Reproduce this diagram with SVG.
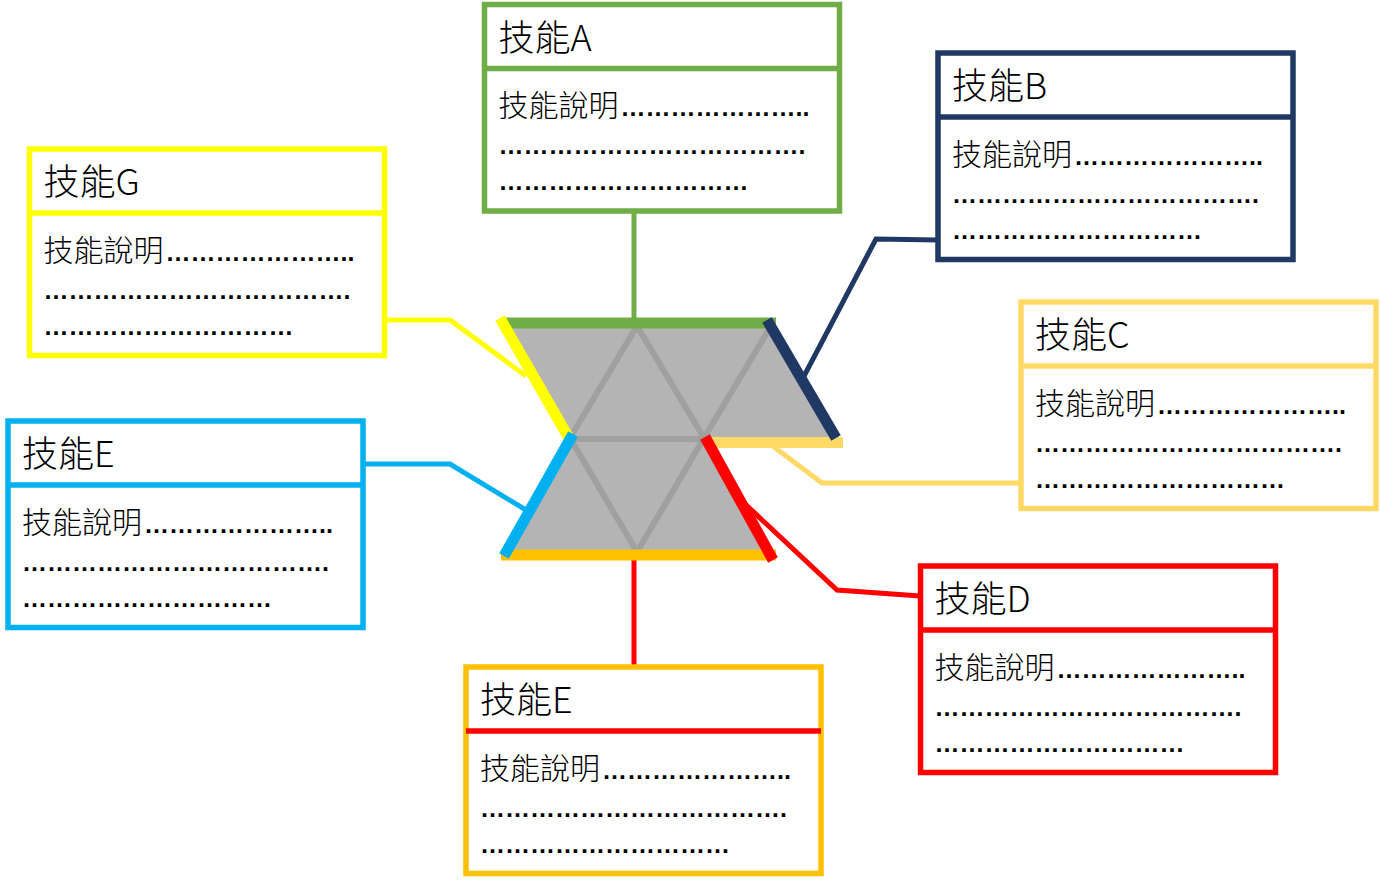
<svg xmlns="http://www.w3.org/2000/svg" width="1380" height="881" viewBox="0 0 1380 881">
<style>
.box{fill:#FFFFFF;stroke-width:5.5}
.div{stroke-width:5.5}
.t{font-family:"Noto Sans CJK TC","Noto Sans CJK SC",sans-serif;font-size:36px;font-weight:300;fill:#000}
.b{font-family:"Noto Sans CJK TC","Noto Sans CJK SC",sans-serif;font-size:30px;font-weight:300;fill:#000}
.d{font-family:"Liberation Sans",Arial,sans-serif;font-size:25px;font-weight:700;fill:#000}
.conn{fill:none;stroke-width:5;stroke-linejoin:miter}
.edge{stroke-width:11;stroke-linecap:butt}
.inner{stroke:#A0A0A0;stroke-width:6;stroke-linecap:round}
</style>
<rect x="0" y="0" width="1380" height="881" fill="#FFFFFF"/>

<g id="connectors">
<polyline class="conn" stroke="#70AD47" points="634,213 634,322"/>
<polyline class="conn" stroke="#203864" points="938,240 876,239 803,378"/>
<polyline class="conn" stroke="#FFFF00" points="385,320 450,320 526,376"/>
<polyline class="conn" stroke="#FFD966" points="770,444 822,483 1021,483"/>
<polyline class="conn" stroke="#00B0F0" points="364,464 450,464 526,510"/>
<polyline class="conn" stroke="#FF0000" points="744,503 837,590 920,596"/>
<polyline class="conn" stroke="#FF0000" points="634,556 634,670"/>
</g>

<g id="hub">
<polygon fill="#B4B4B4" points="503,323 771,323 838,438 704,438 771,555 503,555 570,438"/>
<line class="inner" x1="570" y1="438" x2="637" y2="326"/>
<line class="inner" x1="637" y1="326" x2="704" y2="438"/>
<line class="inner" x1="704" y1="438" x2="771" y2="326"/>
<line class="inner" x1="572" y1="439" x2="708" y2="439"/>
<line class="inner" x1="570" y1="438" x2="637" y2="552"/>
<line class="inner" x1="637" y1="552" x2="704" y2="438"/>
<line class="edge" stroke="#70AD47" x1="502" y1="323" x2="776" y2="323" stroke-width="12"/>
<line class="edge" stroke="#FFC000" x1="501" y1="555" x2="776" y2="555" stroke-width="12"/>
<line class="edge" stroke="#FFD966" x1="707" y1="442.5" x2="843" y2="442.5" stroke-width="12"/>
<line class="edge" stroke="#203864" x1="767" y1="320" x2="836" y2="438"/>
<line class="edge" stroke="#FFFF00" x1="500" y1="318" x2="570" y2="440"/>
<line class="edge" stroke="#00B0F0" x1="573" y1="434" x2="504" y2="556"/>
<line class="edge" stroke="#FF0000" x1="705" y1="437" x2="773" y2="560"/>
</g>

<g id="nodeA" transform="translate(484.5,4.5)">
<rect class="box" stroke="#70AD47" x="0" y="0" width="355" height="206.5"/>
<line class="div" stroke="#70AD47" x1="0" y1="64" x2="355" y2="64"/>
<text class="t" x="14" y="46">技能A</text>
<text class="b" x="14" y="111.5">技能說明<tspan class="d" dx="2">&#8230;&#8230;&#8230;&#8230;&#8230;&#8230;&#8230;..</tspan></text>
<text class="d" x="14" y="149.5">&#8230;&#8230;&#8230;&#8230;&#8230;&#8230;&#8230;&#8230;&#8230;&#8230;&#8230;&#8230;.</text>
<text class="d" x="14" y="185.5">&#8230;&#8230;&#8230;&#8230;&#8230;&#8230;&#8230;&#8230;&#8230;&#8230;</text>
</g>

<g id="nodeB" transform="translate(938,53)">
<rect class="box" stroke="#203864" x="0" y="0" width="355" height="206.5"/>
<line class="div" stroke="#203864" x1="0" y1="64" x2="355" y2="64"/>
<text class="t" x="14" y="46">技能B</text>
<text class="b" x="14" y="111.5">技能說明<tspan class="d" dx="2">&#8230;&#8230;&#8230;&#8230;&#8230;&#8230;&#8230;..</tspan></text>
<text class="d" x="14" y="149.5">&#8230;&#8230;&#8230;&#8230;&#8230;&#8230;&#8230;&#8230;&#8230;&#8230;&#8230;&#8230;.</text>
<text class="d" x="14" y="185.5">&#8230;&#8230;&#8230;&#8230;&#8230;&#8230;&#8230;&#8230;&#8230;&#8230;</text>
</g>

<g id="nodeC" transform="translate(1021,302)">
<rect class="box" stroke="#FFD966" x="0" y="0" width="355" height="206.5"/>
<line class="div" stroke="#FFD966" x1="0" y1="64" x2="355" y2="64"/>
<text class="t" x="14" y="46">技能C</text>
<text class="b" x="14" y="111.5">技能說明<tspan class="d" dx="2">&#8230;&#8230;&#8230;&#8230;&#8230;&#8230;&#8230;..</tspan></text>
<text class="d" x="14" y="149.5">&#8230;&#8230;&#8230;&#8230;&#8230;&#8230;&#8230;&#8230;&#8230;&#8230;&#8230;&#8230;.</text>
<text class="d" x="14" y="185.5">&#8230;&#8230;&#8230;&#8230;&#8230;&#8230;&#8230;&#8230;&#8230;&#8230;</text>
</g>

<g id="nodeD" transform="translate(920.5,566)">
<rect class="box" stroke="#FF0000" x="0" y="0" width="355" height="206.5"/>
<line class="div" stroke="#FF0000" x1="0" y1="64" x2="355" y2="64"/>
<text class="t" x="14" y="46">技能D</text>
<text class="b" x="14" y="111.5">技能說明<tspan class="d" dx="2">&#8230;&#8230;&#8230;&#8230;&#8230;&#8230;&#8230;..</tspan></text>
<text class="d" x="14" y="149.5">&#8230;&#8230;&#8230;&#8230;&#8230;&#8230;&#8230;&#8230;&#8230;&#8230;&#8230;&#8230;.</text>
<text class="d" x="14" y="185.5">&#8230;&#8230;&#8230;&#8230;&#8230;&#8230;&#8230;&#8230;&#8230;&#8230;</text>
</g>

<g id="nodeE_bottom" transform="translate(466,667)">
<rect class="box" stroke="#FFC000" x="0" y="0" width="355" height="206.5"/>
<line class="div" stroke="#FF0000" x1="0" y1="64" x2="355" y2="64"/>
<text class="t" x="14" y="46">技能E</text>
<text class="b" x="14" y="111.5">技能說明<tspan class="d" dx="2">&#8230;&#8230;&#8230;&#8230;&#8230;&#8230;&#8230;..</tspan></text>
<text class="d" x="14" y="149.5">&#8230;&#8230;&#8230;&#8230;&#8230;&#8230;&#8230;&#8230;&#8230;&#8230;&#8230;&#8230;.</text>
<text class="d" x="14" y="185.5">&#8230;&#8230;&#8230;&#8230;&#8230;&#8230;&#8230;&#8230;&#8230;&#8230;</text>
</g>

<g id="nodeE_left" transform="translate(8,421)">
<rect class="box" stroke="#00B0F0" x="0" y="0" width="355" height="206.5"/>
<line class="div" stroke="#00B0F0" x1="0" y1="64" x2="355" y2="64"/>
<text class="t" x="14" y="46">技能E</text>
<text class="b" x="14" y="111.5">技能說明<tspan class="d" dx="2">&#8230;&#8230;&#8230;&#8230;&#8230;&#8230;&#8230;..</tspan></text>
<text class="d" x="14" y="149.5">&#8230;&#8230;&#8230;&#8230;&#8230;&#8230;&#8230;&#8230;&#8230;&#8230;&#8230;&#8230;.</text>
<text class="d" x="14" y="185.5">&#8230;&#8230;&#8230;&#8230;&#8230;&#8230;&#8230;&#8230;&#8230;&#8230;</text>
</g>

<g id="nodeG" transform="translate(29.5,149)">
<rect class="box" stroke="#FFFF00" x="0" y="0" width="355" height="206.5"/>
<line class="div" stroke="#FFFF00" x1="0" y1="64" x2="355" y2="64"/>
<text class="t" x="14" y="46">技能G</text>
<text class="b" x="14" y="111.5">技能說明<tspan class="d" dx="2">&#8230;&#8230;&#8230;&#8230;&#8230;&#8230;&#8230;..</tspan></text>
<text class="d" x="14" y="149.5">&#8230;&#8230;&#8230;&#8230;&#8230;&#8230;&#8230;&#8230;&#8230;&#8230;&#8230;&#8230;.</text>
<text class="d" x="14" y="185.5">&#8230;&#8230;&#8230;&#8230;&#8230;&#8230;&#8230;&#8230;&#8230;&#8230;</text>
</g>
</svg>
